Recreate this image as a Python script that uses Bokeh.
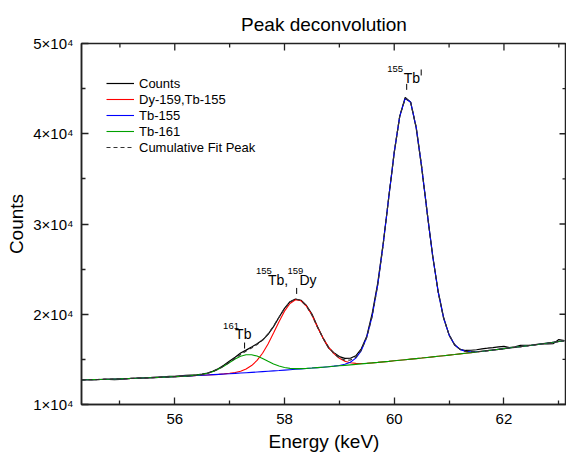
from bokeh.plotting import figure
from bokeh.models import (Range1d, FixedTicker, Legend, LegendItem, ColumnDataSource)
from bokeh.embed import file_html
from bokeh.resources import INLINE
from bokeh.core.properties import value
import math

# ---------------- data ----------------
energy = [54.3, 54.4, 54.5, 54.6, 54.7, 54.8, 54.9, 55.0, 55.1, 55.2,
          55.3, 55.4, 55.5, 55.6, 55.7, 55.8, 55.9, 56.0, 56.1, 56.2,
          56.3, 56.4, 56.5, 56.6, 56.7, 56.8, 56.9, 57.0, 57.1, 57.2,
          57.3, 57.4, 57.5, 57.6, 57.7, 57.8, 57.9, 58.0, 58.1, 58.2,
          58.3, 58.4, 58.5, 58.6, 58.7, 58.8, 58.9, 59.0, 59.1, 59.2,
          59.3, 59.4, 59.5, 59.6, 59.7, 59.8, 59.9, 60.0, 60.1, 60.2,
          60.3, 60.4, 60.5, 60.6, 60.7, 60.8, 60.9, 61.0, 61.1, 61.2,
          61.3, 61.4, 61.5, 61.6, 61.7, 61.8, 61.9, 62.0, 62.1, 62.2,
          62.3, 62.4, 62.5, 62.6, 62.7, 62.8, 62.9, 63.0, 63.1]

counts = [12760, 12755, 12752, 12749, 12796, 12775, 12764, 12774, 12825, 12887,
          12929, 12922, 12956, 13011, 13016, 13073, 13120, 13118, 13176, 13226,
          13266, 13294, 13370, 13491, 13695, 13993, 14382, 14823, 15247, 15703,
          16026, 16371, 16726, 17139, 17764, 18633, 19670, 20656, 21391, 21673,
          21548, 20966, 20023, 18636, 17385, 16285, 15749, 15309, 15115, 15127,
          15400, 16176, 17575, 20132, 23492, 27892, 32934, 37867, 41923, 44020,
          43484, 40641, 36259, 31289, 26510, 22574, 19631, 17712, 16595, 16109,
          15987, 16009, 16069, 16173, 16236, 16309, 16383, 16437, 16293, 16399,
          16566, 16554, 16572, 16632, 16752, 16713, 16744, 17197, 17090]

background = [12720, 12735, 12752, 12769, 12786, 12805, 12824, 12844, 12865, 12887,
              12909, 12932, 12956, 12981, 13006, 13033, 13060, 13088, 13116, 13146,
              13176, 13207, 13239, 13271, 13305, 13339, 13374, 13409, 13446, 13483,
              13521, 13560, 13599, 13640, 13681, 13723, 13765, 13809, 13853, 13898,
              13944, 13991, 14038, 14086, 14135, 14185, 14235, 14287, 14339, 14391,
              14445, 14499, 14555, 14611, 14667, 14725, 14783, 14842, 14902, 14963,
              15024, 15086, 15149, 15213, 15277, 15343, 15409, 15476, 15543, 15612,
              15681, 15751, 15822, 15893, 15966, 16039, 16113, 16187, 16263, 16339,
              16416, 16494, 16572, 16652, 16732, 16813, 16894, 16977, 17060]

# peak heights above the background
peak_dy159_tb155 = [0] * 26 + [19, 45, 100, 211, 413, 753, 1282, 2040, 3027, 4190,
                               5414, 6530, 7344, 7709, 7550, 6901, 5885, 4500, 3250, 2200,
                               1400, 830, 460, 240, 115, 50, 20] + [0] * 36
peak_tb155 = [0] * 46 + [14, 42, 116, 296, 690, 1477, 2900, 5221, 8625, 13067,
                         18151, 23125, 27021, 28957, 28460, 25655, 21210, 16076, 11183, 7131,
                         4172, 2236, 1102, 497, 206, 78, 27] + [0] * 16
peak_tb161 = [0] * 20 + [20, 47, 101, 200, 360, 594, 899, 1249, 1591, 1859,
                         1992, 1958, 1765, 1459, 1106, 770, 491, 287, 154, 76,
                         34, 14] + [0] * 47

title_text = "Peak deconvolution"
series_labels = ["Counts", "Dy-159,Tb-155", "Tb-155", "Tb-161", "Cumulative Fit Peak"]
x_ticks = [56, 58, 60, 62]
x_minor = [55, 57, 59, 61, 63]
y_ticks = [10000, 20000, 30000, 40000, 50000]
y_minor = [15000, 25000, 35000, 45000]
y_tick_labels = ["1×10⁴", "2×10⁴", "3×10⁴", "4×10⁴", "5×10⁴"]

# ---------------- derived curves ----------------
curve_red = [b + r for b, r in zip(background, peak_dy159_tb155)]
curve_blue = [b + r for b, r in zip(background, peak_tb155)]
curve_green = [b + r for b, r in zip(background, peak_tb161)]
curve_cum = [b + r1 + r2 + r3 for b, r1, r2, r3 in
             zip(background, peak_dy159_tb155, peak_tb155, peak_tb161)]

FONT = "Liberation Sans"
AX = "#222222"
X0, X1, Y0, Y1 = 54.3, 63.14, 10000, 50000
FW, FH = 485, 361
BL, BR, BT, BB = 81, 0, 43, 53

p = figure(frame_width=FW, frame_height=FH, output_backend="svg",
           toolbar_location=None,
           x_range=Range1d(X0, X1), y_range=Range1d(Y0, Y1),
           min_border_left=BL, min_border_right=BR, min_border_top=BT,
           min_border_bottom=BB,
           x_axis_label="Energy (keV)", y_axis_label="Counts")
p.grid.visible = False
p.outline_line_color = AX
p.outline_line_width = 1.5
p.background_fill_color = "white"
p.border_fill_color = "white"

p.title.text = title_text
p.title.align = "center"
p.title.text_font = FONT
p.title.text_font_size = "19px"
p.title.text_font_style = "normal"
p.title.text_color = "black"
p.title.standoff = 17


def style_axis(ax):
    ax.axis_line_color = AX
    ax.axis_line_width = 1.5
    ax.major_tick_in = 7
    ax.major_tick_out = 0
    ax.minor_tick_in = 4
    ax.minor_tick_out = 0
    ax.major_tick_line_color = AX
    ax.minor_tick_line_color = AX
    ax.major_tick_line_width = 1.3
    ax.minor_tick_line_width = 1.3
    ax.major_label_text_font = FONT
    ax.major_label_text_font_size = "15px"
    ax.major_label_text_color = "black"
    ax.axis_label_text_font = FONT
    ax.axis_label_text_font_size = "19px"
    ax.axis_label_text_font_style = "normal"
    ax.axis_label_text_color = "black"


p.xaxis[0].ticker = FixedTicker(ticks=x_ticks, minor_ticks=x_minor)
p.yaxis[0].ticker = FixedTicker(ticks=y_ticks, minor_ticks=y_minor)
style_axis(p.xaxis[0])
style_axis(p.yaxis[0])
p.xaxis[0].major_label_standoff = 9
p.yaxis[0].major_label_standoff = 8
p.xaxis[0].axis_label_standoff = 4
p.yaxis[0].axis_label_standoff = 3
p.yaxis[0].major_label_overrides = {t: l for t, l in zip(y_ticks, y_tick_labels)}

kev_per_px = (X1 - X0) / FW
cnt_per_px = (Y1 - Y0) / FH

# inward ticks on the top and right frame edges (mirroring the axis ticks)
p.scatter(x=x_ticks, y=[Y1 - 3.5 * cnt_per_px] * len(x_ticks), marker="dash",
          size=7, angle=math.pi / 2, line_color=AX, line_width=1.3)
p.scatter(x=x_minor, y=[Y1 - 2 * cnt_per_px] * len(x_minor), marker="dash",
          size=4, angle=math.pi / 2, line_color=AX, line_width=1.3)
p.scatter(x=[X1 - 3.5 * kev_per_px] * len(y_ticks), y=y_ticks, marker="dash",
          size=7, line_color=AX, line_width=1.3)
p.scatter(x=[X1 - 2 * kev_per_px] * len(y_minor), y=y_minor, marker="dash",
          size=4, line_color=AX, line_width=1.3)

# ---------------- lines ----------------
r_counts = p.line(energy, counts, line_color="black", line_width=1.2)
r_red = p.line(energy, curve_red, line_color="#ff0000", line_width=1.1)
r_blue = p.line(energy, curve_blue, line_color="#0000ff", line_width=1.1)
r_green = p.line(energy, curve_green, line_color="#00a000", line_width=1.1)
r_cum = p.line(energy, curve_cum, line_color="#333333", line_width=1.2,
               line_dash="4 3")

legend = Legend(items=[LegendItem(label=lab, renderers=[r]) for lab, r in
                       zip(series_labels, [r_counts, r_red, r_blue, r_green, r_cum])],
                location=(25, 249))
legend.margin = 0
legend.padding = 0
legend.spacing = 0
legend.border_line_alpha = 0
legend.background_fill_alpha = 0
legend.glyph_width = 28
legend.glyph_height = 16
legend.label_height = 16
legend.label_standoff = 5
legend.label_text_font = FONT
legend.label_text_font_size = "13px"
legend.label_text_color = "black"
p.add_layout(legend)

# ---------------- peak labels ----------------
i_blue = counts.index(max(counts))
i_red = 39
i_green = 30
ax_blue, ay_blue = energy[i_blue], counts[i_blue]
ax_red, ay_red = energy[i_red], counts[i_red]
ax_green, ay_green = energy[i_green], curve_green[i_green]

label_parts = dict(
    x=[ax_blue, ax_blue,
       ax_red, ax_red, ax_red, ax_red,
       ax_green, ax_green],
    y=[ay_blue, ay_blue,
       ay_red, ay_red, ay_red, ay_red,
       ay_green, ay_green],
    text=["155", "Tb",
          "155", "Tb,", "159", "Dy",
          "161", "Tb"],
    dx=[-18.0, -1.5,
        -39.5, -27.5, -8.0, 4.0,
        -23.0, -11.0],
    dy=[-28.6, -19.6,
        -27.7, -18.7, -27.7, -18.7,
        -29.2, -21.2],
    size=["9.5px", "14px",
          "9.5px", "14px", "9.5px", "14px",
          "9.5px", "14px"],
)
src = ColumnDataSource(label_parts)
p.text(x="x", y="y", text="text", x_offset="dx", y_offset="dy",
       text_font_size="size", text_align="left", text_baseline="alphabetic",
       text_font=value(FONT), text_color="black", source=src)

# small vertical marker strokes placed a few pixels from each label anchor
tick_anchor_x = [ax_blue, ax_blue, ax_red, ax_green]
tick_anchor_y = [ay_blue, ay_blue, ay_red, ay_green]
tick_dx_px = [1.5, 16.0, 1.2, -1.5]
tick_dy_px = [10.6, 25.0, 8.2, 9.2]
p.scatter(x=[a + d * kev_per_px for a, d in zip(tick_anchor_x, tick_dx_px)],
          y=[a + d * cnt_per_px for a, d in zip(tick_anchor_y, tick_dy_px)],
          marker="dash", size=6, angle=math.pi / 2, line_color="black",
          line_width=1)

with open("out.html", "w") as f:
    f.write(file_html(p, INLINE))
